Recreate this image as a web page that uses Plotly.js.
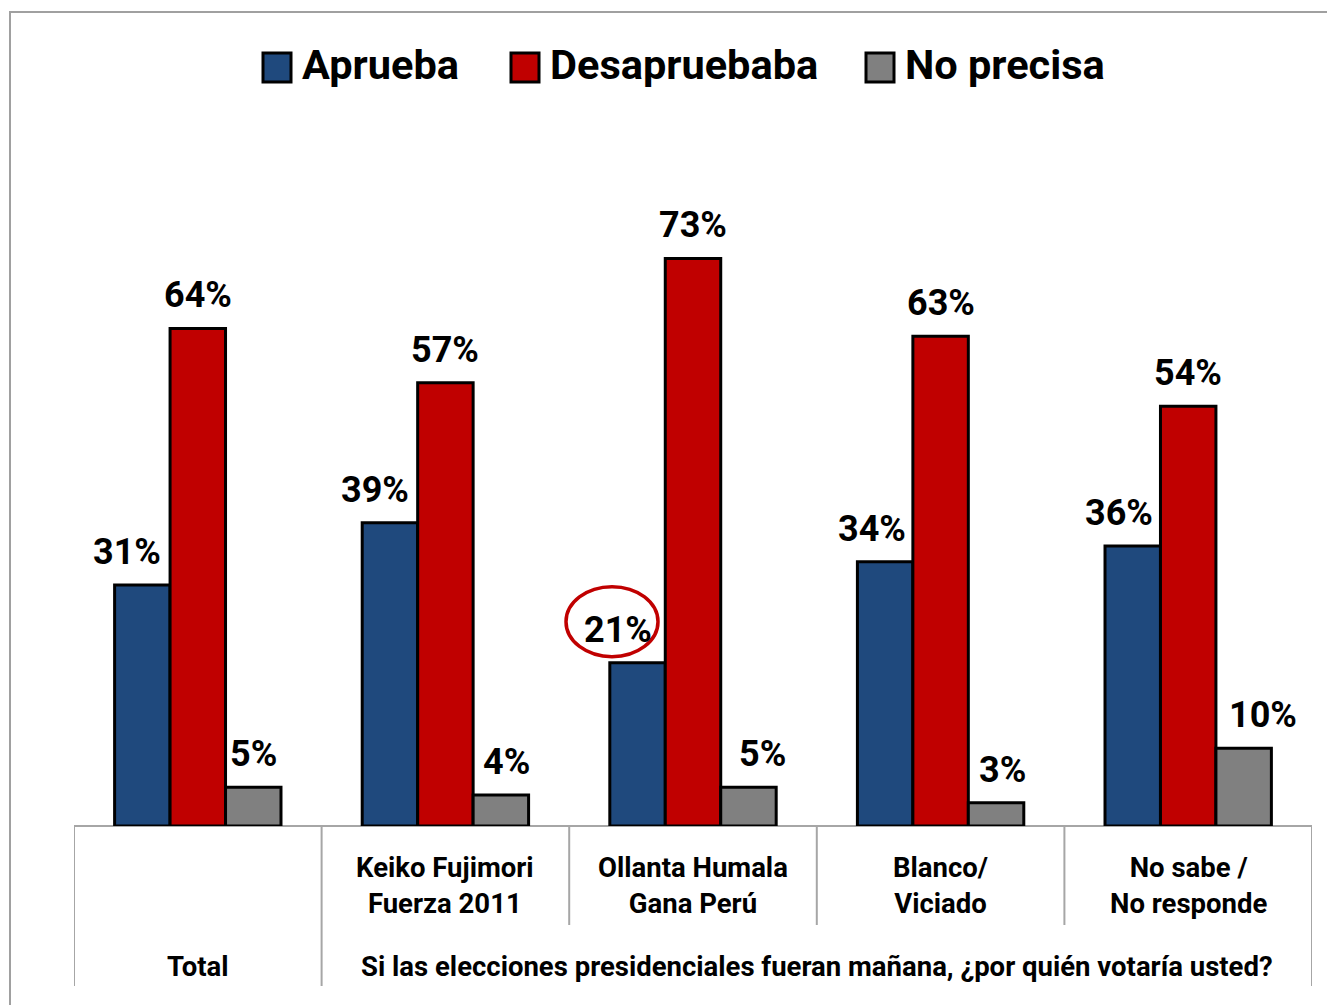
<!DOCTYPE html>
<html><head><meta charset="utf-8">
<script src="https://cdn.plot.ly/plotly-3.0.1.min.js"></script>
<style>body{margin:0;background:#fff}#c{width:1327px;height:1005px}</style></head>
<body><div id="c"></div>
<script>
const categories = ["Total", "Keiko Fujimori<br>Fuerza 2011", "Ollanta Humala<br>Gana Perú", "Blanco/<br>Viciado", "No sabe /<br>No responde"];
const groupLabels = ["Total", "Si las elecciones presidenciales fueran mañana, ¿por quién votaría usted?"];
const seriesNames = ["Aprueba", "Desapruebaba", "No precisa"];
const aprueba = [31, 39, 21, 34, 36];
const desaprueba = [64, 57, 73, 63, 54];
const noPrecisa = [5, 4, 5, 3, 10];

const colors = ["#1F497D", "#C00000", "#808080"];
const series = [aprueba, desaprueba, noPrecisa];
const FONT = "Roboto, 'Open Sans', sans-serif";
const W = 1327, H = 1005, L = 74, R = 15, T = 204, B = 179;
const pw = W - L - R, ph = H - T - B;
const px = p => (p - L) / pw;
const py = p => (H - B - p) / ph;

const traces = series.map((vals, i) => ({
  type: 'bar', name: seriesNames[i], x: categories, y: vals,
  marker: {color: colors[i], line: {color: '#000', width: 3}},
  hoverinfo: 'skip', showlegend: false
}));

const annotations = [];
// label pixel nudges (layout only)
const barOffset = [-55.5, 0, 55.5];
const labelNudge = [[-15, -15, -20, -13, -14], [0, 0, 0, 0, 0], [0, 6, 14, 6, 19]];
series.forEach((vals, i) => {
  vals.forEach((v, j) => {
    annotations.push({x: categories[j], y: v, xref: 'x', yref: 'y', text: '<b>' + v + '%</b>',
      showarrow: false, yanchor: 'bottom', xanchor: 'center', xshift: barOffset[i] + labelNudge[i][j], yshift: 10,
      font: {family: FONT, size: 36, color: '#000', weight: 'bold'}});
  });
});
categories.forEach((c, j) => {
  if (j === 0) return;
  annotations.push({x: c, y: py(885), xref: 'x', yref: 'paper', text: '<b>' + c + '</b>', showarrow: false,
    yanchor: 'middle', xanchor: 'center',
    font: {family: FONT, size: 27.5, color: '#000', weight: 'bold'}});
});
annotations.push({x: 0, y: py(966), xref: 'x', yref: 'paper', text: '<b>' + groupLabels[0] + '</b>', showarrow: false,
  yanchor: 'middle', font: {family: FONT, size: 27.5, color: '#000', weight: 'bold'}});
annotations.push({x: 2.5, y: py(966), xref: 'x', yref: 'paper', text: '<b>' + groupLabels[1] + '</b>', showarrow: false,
  yanchor: 'middle', font: {family: FONT, size: 27.5, color: '#000', weight: 'bold'}});

// legend
const legX = [263, 511, 866];
const shapes = [];
seriesNames.forEach((n, i) => {
  shapes.push({type: 'rect', xref: 'paper', yref: 'paper', x0: px(legX[i]), x1: px(legX[i] + 28),
    y0: py(82), y1: py(53), fillcolor: colors[i], line: {color: '#000', width: 3}});
  annotations.push({xref: 'paper', yref: 'paper', x: px(legX[i] + 37), y: py(65), text: '<b>' + n + '</b>',
    showarrow: false, xanchor: 'left', yanchor: 'middle',
    font: {family: FONT, size: 41.5, color: '#000', weight: 'bold'}});
});

// frame
shapes.push({type: 'rect', xref: 'paper', yref: 'paper', x0: px(10), x1: px(1340), y0: py(1020), y1: py(12),
  line: {color: '#A0A0A0', width: 2}, fillcolor: 'rgba(0,0,0,0)', layer: 'below'});
// axis line
shapes.push({type: 'line', xref: 'x', yref: 'paper', x0: -0.5, x1: 4.5, y0: 0, y1: 0,
  line: {color: '#A6A6A6', width: 2}, layer: 'below'});
// dividers
for (let k = 0; k <= 5; k++) {
  const full = (k === 0 || k === 1 || k === 5);
  shapes.push({type: 'line', xref: 'x', yref: 'paper', x0: k - 0.5, x1: k - 0.5, y0: 0,
    y1: full ? py(986) : py(925), line: {color: '#A6A6A6', width: 2}});
}
// highlight ellipse around 21%
shapes.push({type: 'circle', xref: 'x', yref: 'y', xsizemode: 'pixel', ysizemode: 'pixel',
  xanchor: 2, yanchor: aprueba[2], x0: -127, x1: -35, y0: 6, y1: 76,
  line: {color: '#C00000', width: 3.5}, fillcolor: 'rgba(0,0,0,0)'});

const layout = {
  width: W, height: H, margin: {l: L, r: R, t: T, b: B},
  paper_bgcolor: '#fff', plot_bgcolor: 'rgba(0,0,0,0)',
  barmode: 'group', bargap: 0.328, bargroupgap: 0,
  xaxis: {type: 'category', showticklabels: false, showgrid: false, zeroline: false, showline: false,
    range: [-0.5, 4.5], fixedrange: true},
  yaxis: {range: [0, 80], visible: false, showgrid: false, zeroline: false, fixedrange: true},
  showlegend: false, annotations, shapes
};
Plotly.newPlot('c', traces, layout, {displayModeBar: false, staticPlot: true});
</script></body></html>
